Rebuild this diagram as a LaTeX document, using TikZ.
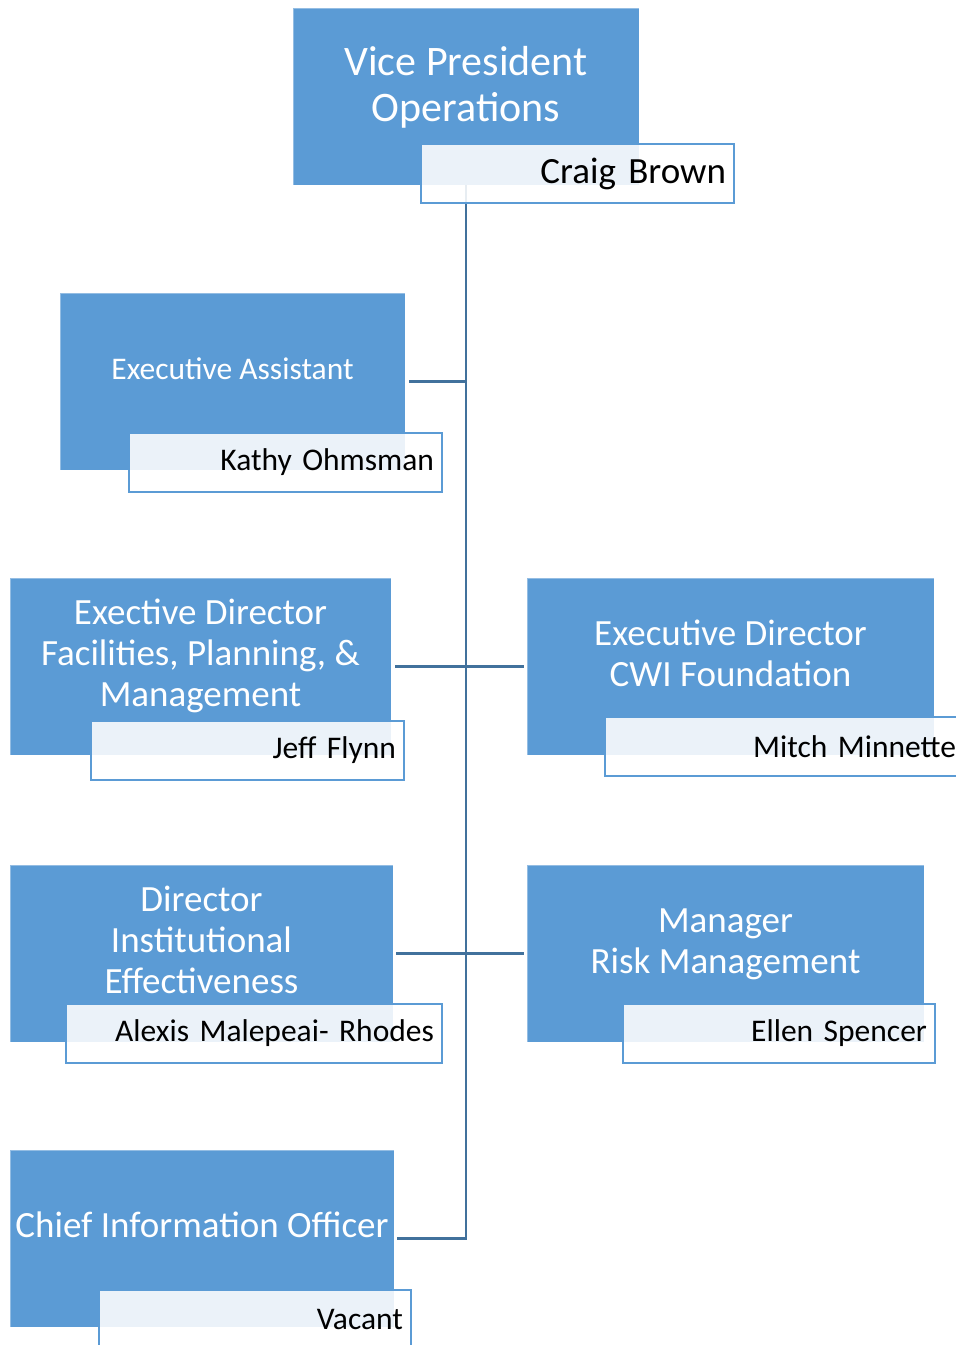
\documentclass[tikz,border=0pt]{standalone}
\usepackage{fontspec}
\setmainfont{Carlito}
\usetikzlibrary{calc}
\definecolor{boxblue}{RGB}{91,155,213}
\definecolor{linkblue}{RGB}{65,113,156}
\tikzset{
  rolebox/.style={rectangle, fill=boxblue, draw=white, draw opacity=0.35,
    line width=1pt, inner sep=0pt, outer sep=0pt, anchor=north west},
  roletext/.style={text=white, align=center, inner sep=0pt,
    font=\fontsize{37}{41}\selectfont},
  namebox/.style={rectangle, fill=white, fill opacity=0.88, text opacity=1,
    draw=boxblue, draw opacity=1, line width=2.5pt, anchor=north west,
    minimum height=59pt, inner xsep=8pt, inner ysep=0pt, outer sep=0pt,
    align=right, text=black, font=\fontsize{31.5}{36}\selectfont},
  link/.style={draw=linkblue, line width=2.5pt},
}
\begin{document}
\begin{tikzpicture}[x=1pt, y=-1pt]
\useasboundingbox (0,0) rectangle (956,1345);
\clip (0,0) rectangle (956,1345);

% position boxes
\node[rolebox, minimum width=346pt, minimum height=177pt] (vp)  at (293,8) {};
\node[rolebox, minimum width=345pt, minimum height=177pt] (ea)  at (60,293) {};
\node[rolebox, minimum width=381pt, minimum height=177pt] (fpm) at (10,578) {};
\node[rolebox, minimum width=407pt, minimum height=177pt] (cwi) at (527,578) {};
\node[rolebox, minimum width=383pt, minimum height=177pt] (ie)  at (10,865) {};
\node[rolebox, minimum width=397pt, minimum height=177pt] (rm)  at (527,865) {};
\node[rolebox, minimum width=384pt, minimum height=177pt] (cio) at (10,1150) {};

% reporting lines
\draw[link] (vp.south) -- (vp.south |- cio.east) -- ([xshift=3pt]cio.east);
\draw[link] ([xshift=4pt]ea.east) -- (ea.east -| vp.south);
\draw[link] ([xshift=4pt]fpm.east) -- ([xshift=-3pt]cwi.west);
\draw[link] ([xshift=3pt]ie.east) -- ([xshift=-3pt]rm.west);

% position titles
\node[roletext, font=\fontsize{42}{46.5}\selectfont] (vpt) at ($(vp.north)+(0,79.5)$) {Vice President\\Operations};
\node[roletext, font=\fontsize{31.5}{36}\selectfont] (eat) at ($(ea.north)+(0,76)$) {Executive Assistant};
\node[roletext] (fpmt) at ($(fpm.north)+(0,78)$) {Exective Director\\Facilities, Planning, \&\\Management};
\node[roletext] (cwit) at ($(cwi.north)+(0,75.5)$) {Executive Director\\CWI Foundation};
\node[roletext] (iet)  at ($(ie.north)+(0,75)$) {Director\\Institutional\\Effectiveness};
\node[roletext] (rmt)  at ($(rm.north)+(0,79)$) {Manager\\Risk Management};
\node[roletext] (ciot) at ($(cio.north)+(0,75)$) {Chief Information Officer};

% name plates
\node[namebox, text width=297pt, font=\fontsize{37}{41}\selectfont] (vpn) at (421,144) {Craig Brown};
\node[namebox, text width=297pt] (ean)  at (129,433) {Kathy Ohmsman};
\node[namebox, text width=297pt] (fpmn) at (91,721) {Jeff Flynn};
\node[namebox, text width=343pt] (cwin) at (605,717) {Mitch Minnette};
\node[namebox, text width=360pt] (ien)  at (66,1004) {Alexis Malepeai- Rhodes};
\node[namebox, text width=296pt] (rmn)  at (623,1004) {Ellen Spencer};
\node[namebox, text width=296pt] (cion) at (99,1290) {Vacant};
\end{tikzpicture}
\end{document}
